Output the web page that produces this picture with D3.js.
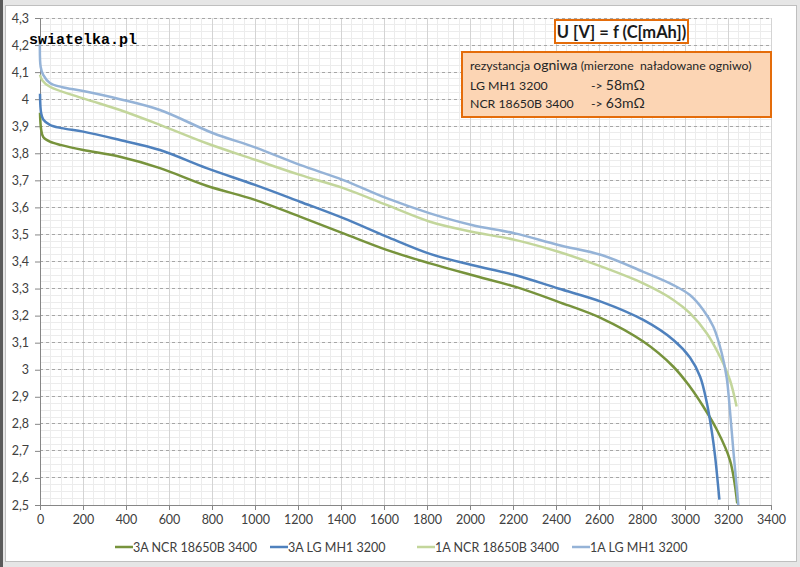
<!DOCTYPE html>
<html><head><meta charset="utf-8">
<script src="https://cdn.jsdelivr.net/npm/d3@7"></script>
<style>
html,body{margin:0;padding:0;background:#e6e6e6;}
svg{display:block;}
</style></head>
<body>
<svg id="c" width="800" height="567"></svg>
<script>
// ---- data ----
const seriesNames = ["3A NCR 18650B 3400", "3A LG MH1 3200", "1A NCR 18650B 3400", "1A LG MH1 3200"];
const seriesColors = ["#77933c", "#4f81bd", "#c3d69b", "#95b3d7"];

const cap3A_NCR = [0,5,15,46,100,201,372,558,775,1000,1209,1411,1612,1814,2008,2209,2411,2612,2806,2946,3023,3085,3147,3209,3243];
const volt3A_NCR = [3.95,3.89,3.86,3.843,3.83,3.812,3.787,3.745,3.68,3.628,3.566,3.504,3.443,3.393,3.35,3.307,3.251,3.19,3.104,3.011,2.937,2.864,2.78,2.666,2.506];

const cap3A_LG = [0,5,15,46,100,201,372,558,775,1000,1209,1411,1612,1814,2008,2209,2411,2612,2806,2946,3023,3070,3101,3125,3140,3160];
const volt3A_LG = [4.02,3.95,3.925,3.905,3.893,3.88,3.849,3.812,3.745,3.683,3.621,3.56,3.492,3.428,3.387,3.35,3.30,3.251,3.184,3.11,3.045,2.975,2.88,2.77,2.68,2.52];

const cap1A_NCR = [0,10,46,201,372,558,775,1000,1209,1411,1612,1814,2008,2209,2411,2612,2806,2946,3023,3101,3163,3209,3240];
const volt1A_NCR = [4.09,4.07,4.046,4.003,3.96,3.905,3.837,3.776,3.72,3.671,3.609,3.547,3.51,3.48,3.436,3.381,3.319,3.258,3.209,3.135,3.048,2.962,2.864];

const cap1A_LG = [0,3,15,46,100,201,372,558,806,1000,1209,1411,1612,1814,2008,2209,2411,2612,2806,2946,3023,3085,3132,3171,3194,3209,3225,3240,3248];
const volt1A_LG = [4.23,4.12,4.09,4.06,4.045,4.03,4.0,3.96,3.874,3.822,3.757,3.701,3.634,3.578,3.535,3.504,3.461,3.424,3.362,3.313,3.276,3.221,3.159,3.061,2.97,2.85,2.70,2.57,2.50];

const xTicks = d3.range(0, 3401, 200);
const yTicks = d3.range(25, 44).map(d => d / 10);

const titleText = "U [V] = f (C[mAh])";
const watermark = "swiatelka.pl";

// ---- build ----
const caps = [cap3A_NCR, cap3A_LG, cap1A_NCR, cap1A_LG];
const volts = [volt3A_NCR, volt3A_LG, volt1A_NCR, volt1A_LG];
const series = seriesNames.map((n, i) => ({name: n, color: seriesColors[i], pts: caps[i].map((c, j) => [c, volts[i][j]])}));

const svg = d3.select("#c");
const font = "Lato, 'Open Sans', sans-serif";

// background / frame
svg.append("rect").attr("x", 0).attr("y", 0).attr("width", 3).attr("height", 567).attr("fill", "#5a5a5a");
svg.append("rect").attr("x", 5.5).attr("y", 5.5).attr("width", 791).attr("height", 556)
  .attr("fill", "#fff").attr("stroke", "#bfbfbf").attr("stroke-width", 1);

const x = d3.scaleLinear().domain([0, 3400]).range([40, 771]);
const y = d3.scaleLinear().domain([2.5, 4.3]).range([505, 18]);

const g = svg.append("g");
// minor grid
g.append("g").selectAll("line").data(d3.range(0, 3401, 50)).join("line")
  .attr("x1", d => x(d)).attr("x2", d => x(d)).attr("y1", y(4.3)).attr("y2", y(2.5))
  .attr("stroke", "#ececec").attr("stroke-width", 1).attr("shape-rendering", "crispEdges");
g.append("g").selectAll("line").data(d3.range(0, 73).map(i => 2.5 + i * 0.025)).join("line")
  .attr("x1", x(0)).attr("x2", x(3400)).attr("y1", d => y(d)).attr("y2", d => y(d))
  .attr("stroke", "#ececec").attr("stroke-width", 1).attr("shape-rendering", "crispEdges");
// major grid
g.append("g").selectAll("line").data(xTicks.slice(1)).join("line")
  .attr("x1", d => x(d)).attr("x2", d => x(d)).attr("y1", y(4.3)).attr("y2", y(2.5))
  .attr("stroke", "#d4d4d4").attr("stroke-width", 1).attr("shape-rendering", "crispEdges");
g.append("g").selectAll("line").data(yTicks.slice(1)).join("line")
  .attr("x1", x(0)).attr("x2", x(3400)).attr("y1", d => y(d)).attr("y2", d => y(d))
  .attr("stroke", "#a6a6a6").attr("stroke-width", 1).attr("stroke-dasharray", "3,3").attr("shape-rendering", "crispEdges");

// axes
const xAxis = d3.axisBottom(x).tickValues(xTicks).tickFormat(d => d).tickSize(5).tickPadding(5);
const yAxis = d3.axisLeft(y).tickValues(yTicks).tickFormat(d => String(+d.toFixed(1)).replace(".", ",")).tickSize(5).tickPadding(6);
const gx = svg.append("g").attr("transform", `translate(0,${y(2.5)})`).call(xAxis);
const gy = svg.append("g").attr("transform", `translate(${x(0)},0)`).call(yAxis);
[gx, gy].forEach(a => {
  a.select(".domain").attr("stroke", "#868686");
  a.selectAll(".tick line").attr("stroke", "#868686");
  a.selectAll("text").attr("fill", "#404040").style("font-family", font).style("font-size", "12.5px");
});

// series lines
const line = d3.line().x(d => x(d[0])).y(d => y(d[1])).curve(d3.curveCatmullRom.alpha(0.5));
svg.append("g").selectAll("path").data(series).join("path")
  .attr("d", d => line(d.pts)).attr("fill", "none")
  .attr("stroke", d => d.color).attr("stroke-width", 2.5).attr("stroke-linejoin", "round");

// legend
const legX = [133, 288, 435, 590];
const leg = svg.append("g").selectAll("g").data(series).join("g")
  .attr("transform", (d, i) => `translate(${legX[i]},547)`);
leg.append("line").attr("x1", -18).attr("x2", 0).attr("y1", 0).attr("y2", 0)
  .attr("stroke", d => d.color).attr("stroke-width", 2.5);
leg.append("text").attr("x", 0).attr("y", 4.5).text(d => d.name)
  .attr("fill", "#404040").style("font-family", font).style("font-size", "12.5px");

// title box
svg.append("rect").attr("x", 555).attr("y", 20).attr("width", 133).attr("height", 23)
  .attr("fill", "#fff").attr("stroke", "#e46c0a").attr("stroke-width", 2);
svg.append("text").attr("x", 621.5).attr("y", 37.5).attr("text-anchor", "middle").text(titleText)
  .attr("fill", "#1a1a1a").style("font-family", font).style("font-size", "16.5px").style("font-weight", "bold");

// info box
svg.append("rect").attr("x", 462).attr("y", 52).attr("width", 309).attr("height", 65)
  .attr("fill", "#fcd5b4").attr("stroke", "#e46c0a").attr("stroke-width", 2);
const info = svg.append("g").style("font-family", font).attr("fill", "#262626");
const t1 = info.append("text").attr("x", 470).attr("y", 70).style("font-size", "12.3px");
t1.append("tspan").text("rezystancja ");
t1.append("tspan").text("ogniwa").style("font-size", "14px");
t1.append("tspan").text(" (mierzone  naładowane ogniwo)").attr("xml:space", "preserve").style("white-space", "pre");
info.append("text").attr("x", 470).attr("y", 90).style("font-size", "12.3px").text("LG MH1 3200");
const t2 = info.append("text").attr("x", 591).attr("y", 90).style("font-size", "12.3px");
t2.append("tspan").text("-> ");
t2.append("tspan").text("58mΩ").style("font-size", "14px");
info.append("text").attr("x", 470).attr("y", 108).style("font-size", "12.3px").text("NCR 18650B 3400");
const t3 = info.append("text").attr("x", 591).attr("y", 108).style("font-size", "12.3px");
t3.append("tspan").text("-> ");
t3.append("tspan").text("63mΩ").style("font-size", "14px");

// watermark
svg.append("text").attr("x", 29).attr("y", 44).text(watermark)
  .attr("fill", "#000").style("font-family", "'Liberation Mono', 'DejaVu Sans Mono', monospace")
  .style("font-size", "15px").style("font-weight", "bold");
</script>
</body></html>
